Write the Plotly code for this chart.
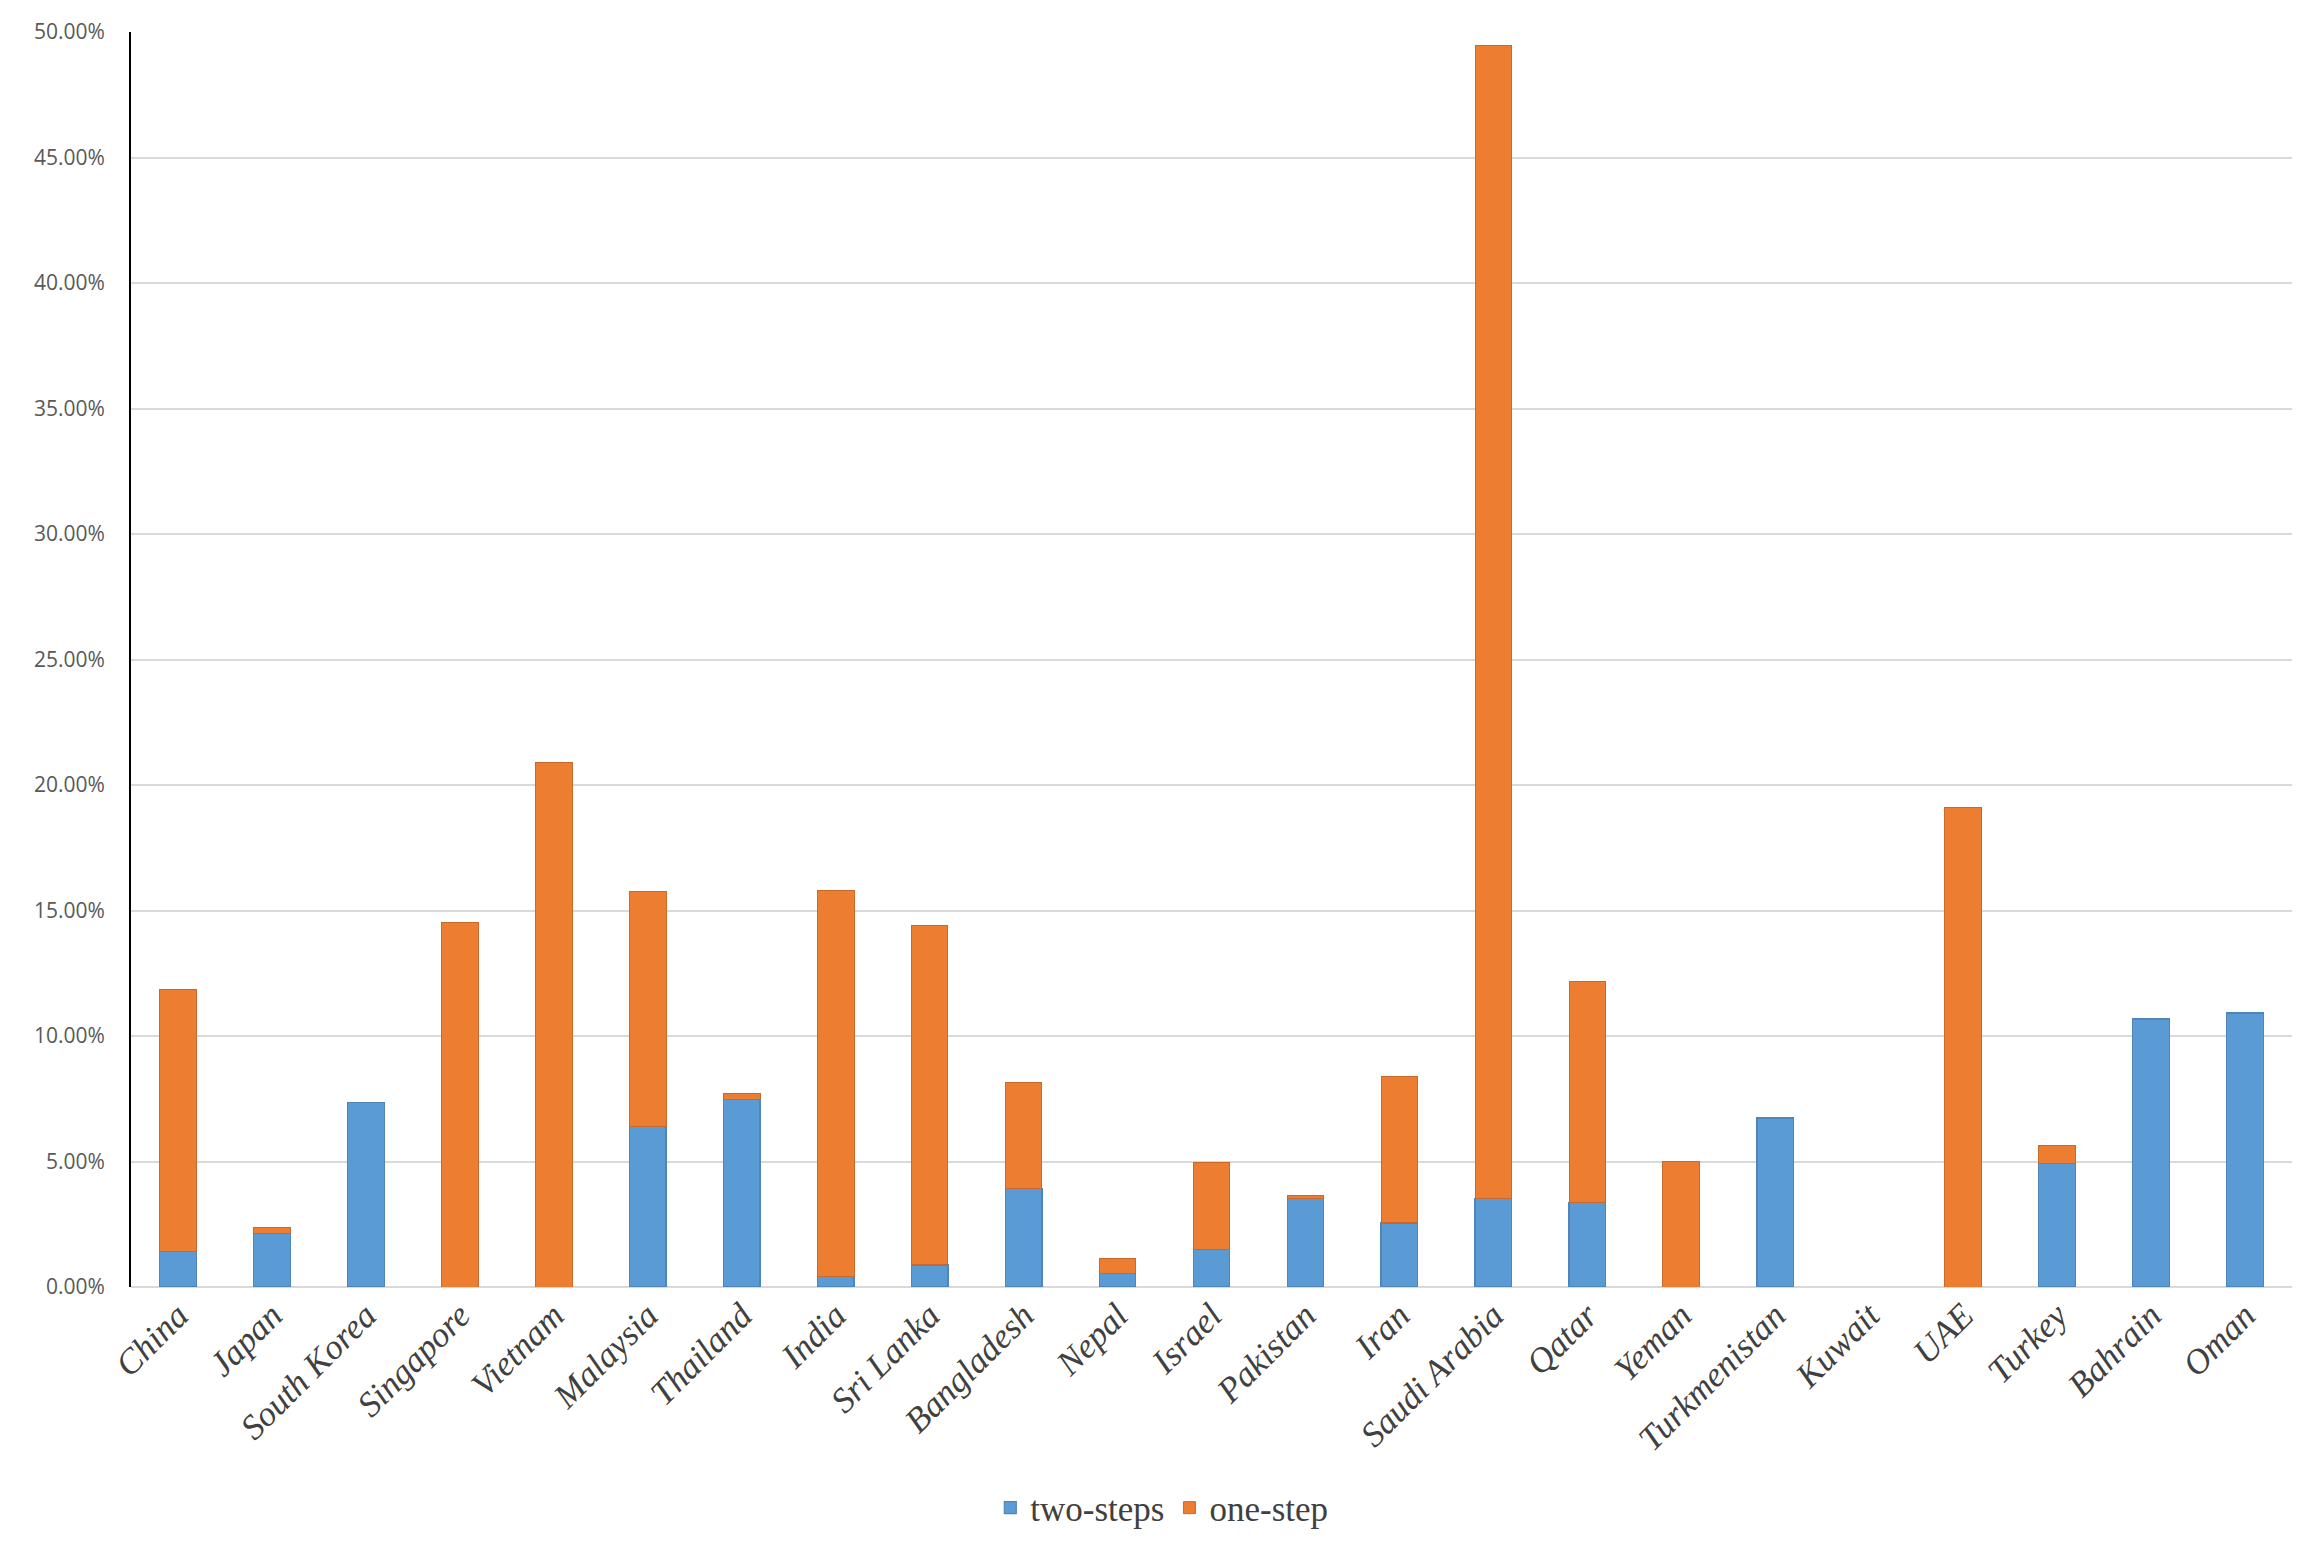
import plotly.graph_objects as go

countries = ["China", "Japan", "South Korea", "Singapore", "Vietnam", "Malaysia",
             "Thailand", "India", "Sri Lanka", "Bangladesh", "Nepal", "Israel",
             "Pakistan", "Iran", "Saudi Arabia", "Qatar", "Yeman", "Turkmenistan",
             "Kuwait", "UAE", "Turkey", "Bahrain", "Oman"]

two_steps = [1.41, 2.15, 7.36, 0.0, 0.0, 6.38, 7.47, 0.43, 0.88, 3.94, 0.54, 1.49,
             3.53, 2.55, 3.53, 3.36, 0.0, 6.73, 0.0, 0.0, 4.93, 10.68, 10.92]

one_step = [10.43, 0.22, 0.0, 14.53, 20.91, 9.37, 0.23, 15.38, 13.54, 4.22, 0.59, 3.46,
            0.10, 5.85, 45.95, 8.81, 5.00, 0.0, 0.0, 19.10, 0.69, 0.0, 0.0]

y_ticks = [0, 5, 10, 15, 20, 25, 30, 35, 40, 45, 50]
y_tick_labels = ["0.00%", "5.00%", "10.00%", "15.00%", "20.00%", "25.00%",
                 "30.00%", "35.00%", "40.00%", "45.00%", "50.00%"]

BLUE = "#5B9BD5"
ORANGE = "#ED7D31"


def nz(values):
    # zero-height segments are not drawn (no stray outline)
    return [v if v > 0 else None for v in values]


fig = go.Figure()
fig.add_trace(go.Bar(
    x=countries, y=nz(two_steps), name="two-steps",
    marker=dict(color=BLUE, line=dict(color="#4F86BA", width=1.2)),
))
fig.add_trace(go.Bar(
    x=countries, y=nz(one_step), name="one-step",
    marker=dict(color=ORANGE, line=dict(color="#C96A2C", width=1.0)),
))

fig.update_layout(
    barmode="stack",
    bargap=0.61,
    width=2303, height=1541,
    paper_bgcolor="white", plot_bgcolor="white",
    margin=dict(l=123, r=19, t=24, b=262, autoexpand=False),
    showlegend=True,
    legend=dict(
        orientation="h", x=0.477, xanchor="center", y=-0.176, yanchor="middle",
        font=dict(family="Liberation Serif", size=35, color="#404040"),
        itemwidth=30, tracegroupgap=0, traceorder="normal",
    ),
    xaxis=dict(
        tickangle=-45,
        tickfont=dict(family="Liberation Serif", size=35, color="#404040",
                      style="italic"),
        showgrid=False, showline=False, ticks="",
        zeroline=False,
    ),
    yaxis=dict(
        range=[0, 50],
        tickvals=y_ticks,
        ticktext=y_tick_labels,
        tickfont=dict(family="Open Sans", size=21, color="#595959"),
        showgrid=True, gridcolor="#D9D9D9", gridwidth=1.5,
        zeroline=True, zerolinecolor="#D9D9D9", zerolinewidth=1.5,
        showline=True, linecolor="black", linewidth=2,
        ticks="outside", ticklen=20, tickcolor="rgba(0,0,0,0)",
    ),
)

fig.write_html("out.html")
